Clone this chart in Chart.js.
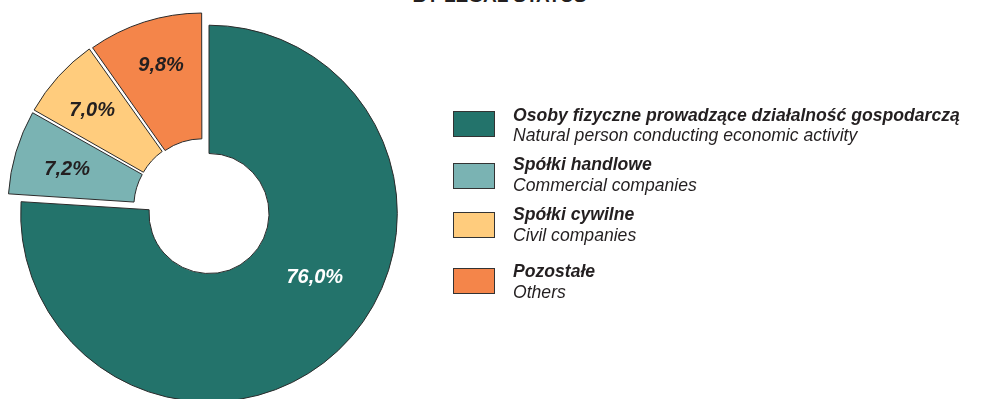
<!DOCTYPE html>
<html>
<head>
<meta charset="utf-8">
<script src="https://cdn.jsdelivr.net/npm/chart.js@4"></script>
<style>
  html, body { margin: 0; padding: 0; background: #ffffff; }
  #wrap {
    position: relative; width: 999px; height: 399px; overflow: hidden;
    font-family: "Liberation Sans", Arial, sans-serif; color: #231f20;
  }
  #wrap canvas { position: absolute; left: 0; top: 0; }
  #title {
    position: absolute; left: 0; width: 999px; top: -14px;
    text-align: center; font-weight: bold; font-size: 19px; line-height: 19px;
  }
  .box { position: absolute; left: 453px; width: 40px; height: 24px; border: 1px solid #333333; box-sizing: content-box; }
  .pl, .en { position: absolute; left: 513px; white-space: nowrap; font-style: italic; font-size: 17.6px; line-height: 19px; }
  .pl { font-weight: bold; }
</style>
</head>
<body>
<div id="wrap">
  <div id="title">BY LEGAL STATUS</div>
  <canvas id="mainRing" width="999" height="399"></canvas>
  <canvas id="smallRing" width="999" height="399"></canvas>
  <div id="legend"></div>
</div>
<script>
// Legal forms (Polish / English) and their shares, in %
const categoriesPl = ['Osoby fizyczne prowadzące działalność gospodarczą', 'Spółki handlowe', 'Spółki cywilne', 'Pozostałe'];
const categoriesEn = ['Natural person conducting economic activity', 'Commercial companies', 'Civil companies', 'Others'];
const shares = [76.0, 7.2, 7.0, 9.8];
const shareLabels = ['76,0%', '7,2%', '7,0%', '9,8%'];

// Styling
const sliceColors = ['#23736B', '#7AB3B3', '#FFCC7D', '#F4854A'];
const labelColors = ['#ffffff', '#231f20', '#231f20', '#231f20'];
const edgeColor = '#2b2b2b';
const labelAngleFrac = [0.443, 0.46, 0.46, 0.53];
const labelRadiusFrac = [0.496, 0.57, 0.62, 0.63];
const legendBoxTop = [111, 163, 212, 268];
const legendTextTop = [106, 155, 205, 262];
const legendLineGap = [19.5, 20.5, 20.5, 20.5];

// Writes the share of each visible slice inside it
const sliceLabels = {
  id: 'sliceLabels',
  afterDatasetsDraw(chart, args, opts) {
    const ctx = chart.ctx;
    const meta = chart.getDatasetMeta(0);
    ctx.save();
    ctx.font = 'italic bold 20px "Liberation Sans", Arial, sans-serif';
    ctx.textAlign = 'center';
    ctx.textBaseline = 'middle';
    opts.indices.forEach(i => {
      const el = meta.data[i];
      const p = el.getProps(['x', 'y', 'startAngle', 'endAngle', 'innerRadius', 'outerRadius'], true);
      const off = (el.options.offset || 0) / 4;
      const circ = p.endAngle - p.startAngle;
      const mid = (p.startAngle + p.endAngle) / 2;
      const grow = off * (1 - Math.sin(Math.min(Math.PI, circ)));
      const cx = p.x + Math.cos(mid) * off;
      const cy = p.y + Math.sin(mid) * off;
      const a = p.startAngle + labelAngleFrac[i] * circ;
      const r = p.innerRadius + grow + labelRadiusFrac[i] * (p.outerRadius - p.innerRadius);
      ctx.fillStyle = labelColors[i];
      ctx.fillText(shareLabels[i], cx + Math.cos(a) * r, cy + Math.sin(a) * r);
    });
    ctx.restore();
  }
};

function ringConfig(visible, radius, innerRadius, offset, padding) {
  return {
    type: 'doughnut',
    data: {
      labels: categoriesPl,
      datasets: [{
        data: shares,
        backgroundColor: sliceColors.map((c, i) => visible.includes(i) ? c : 'rgba(0,0,0,0)'),
        borderColor: sliceColors.map((c, i) => visible.includes(i) ? edgeColor : 'rgba(0,0,0,0)'),
        borderWidth: 1,
        offset: sliceColors.map((c, i) => visible.includes(i) ? offset : 0)
      }]
    },
    options: {
      responsive: false,
      animation: false,
      events: [],
      radius: radius,
      cutout: (innerRadius / radius * 100) + '%',
      layout: { padding: padding },
      plugins: {
        legend: { display: false },
        tooltip: { enabled: false },
        title: { display: false },
        sliceLabels: { indices: visible }
      }
    },
    plugins: [sliceLabels]
  };
}

// Main slice, and the three smaller slices pulled out of the ring
new Chart(document.getElementById('mainRing'), ringConfig([0], 188.3, 60, 0, { left: 0, right: 581, top: 28, bottom: 0 }));
new Chart(document.getElementById('smallRing'), ringConfig([1, 2, 3], 187.8, 62, 20, { left: 0, right: 592, top: 16.4, bottom: 0 }));

// Two-line legend
const legend = document.getElementById('legend');
categoriesPl.forEach((name, i) => {
  const box = document.createElement('div');
  box.className = 'box';
  box.style.background = sliceColors[i];
  box.style.top = legendBoxTop[i] + 'px';
  legend.appendChild(box);
  const pl = document.createElement('div');
  pl.className = 'pl';
  pl.textContent = name;
  pl.style.top = legendTextTop[i] + 'px';
  legend.appendChild(pl);
  const en = document.createElement('div');
  en.className = 'en';
  en.textContent = categoriesEn[i];
  en.style.top = (legendTextTop[i] + legendLineGap[i]) + 'px';
  legend.appendChild(en);
});
</script>
</body>
</html>
